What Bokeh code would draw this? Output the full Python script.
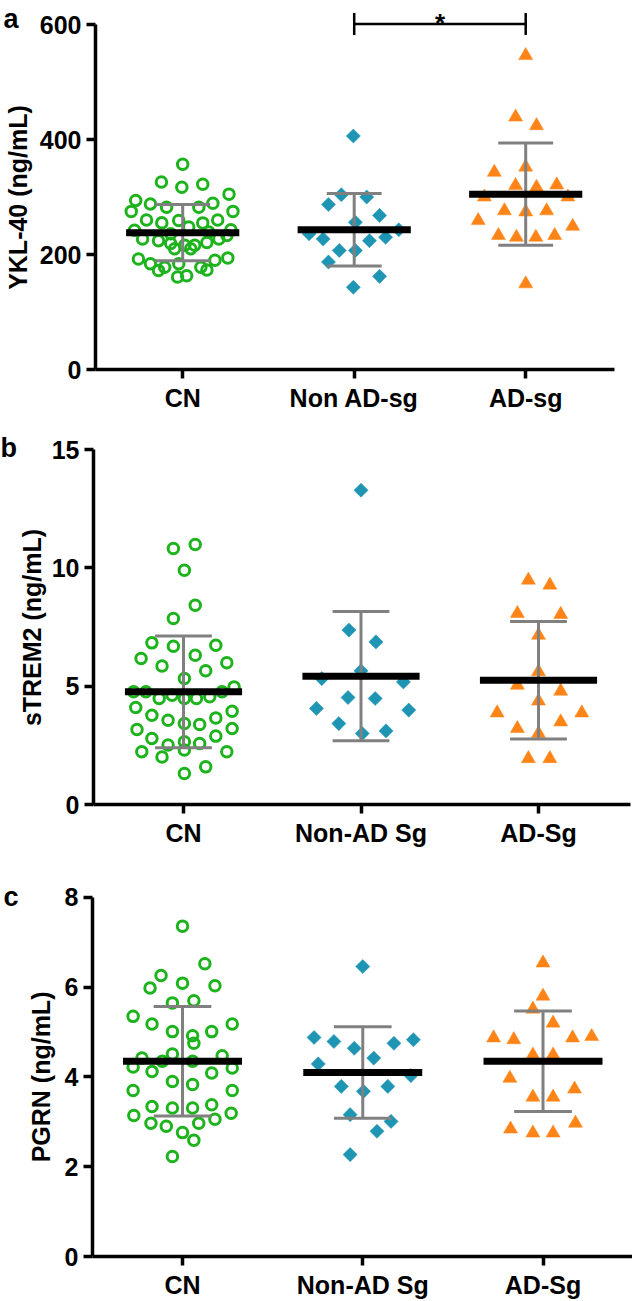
import numpy as np
from bokeh.plotting import figure
from bokeh.layouts import column, row
from bokeh.models import Range1d, FixedTicker, Label
from bokeh.core.properties import value
from bokeh.embed import file_html
from bokeh.resources import INLINE

FONT = "Liberation Sans"
GREEN = "#1DB31D"
TEAL = "#1F95B4"
ORANGE = "#FF8417"
GREY = "#808080"

# ---------------- data ----------------
groups_a = ["CN", "Non AD-sg", "AD-sg"]
groups_bc = ["CN", "Non-AD Sg", "AD-Sg"]

# Panel a: YKL-40 (ng/mL)
a_cn = [357, 326, 322, 317, 305, 294, 288, 282, 282, 289, 275, 275, 260, 255, 259, 255, 260,
        242, 248, 243, 227, 224, 219, 216, 216, 221, 227, 233, 210, 210, 192, 184, 178, 184,
        178, 190, 194, 172, 163, 161, 173, 236, 239]
a_cn_off = [0.0, -0.124, 0.117, -0.005, 0.270, -0.274, -0.188, -0.094, 0.094, 0.176, -0.300, 0.293,
            -0.211, -0.122, -0.023, 0.117, 0.204, -0.281, 0.035, 0.281, -0.234, -0.141, -0.070,
            0.012, 0.070, 0.141, 0.211, 0.258, -0.047, 0.047, -0.258, -0.188, -0.105, -0.023,
            0.106, 0.188, 0.263, -0.141, 0.023, -0.030, 0.141, -0.070, 0.152]
a_non = [406, 304, 300, 287, 268, 256, 236, 243, 230, 227, 224, 207, 207, 187, 162, 143]
a_non_off = [-0.005, -0.075, 0.073, -0.150, 0.148, 0.007, -0.263, 0.260, 0.183, -0.181, 0.089,
             -0.087, 0.007, -0.150, 0.148, -0.005]
a_ad = [546, 439, 424, 343, 352, 320, 317, 321, 300, 300, 276, 274, 276, 259, 249, 233, 230, 230,
        233, 149]
a_ad_off = [0.0, -0.059, 0.063, -0.183, 0.0, -0.059, 0.063, 0.181, -0.241, 0.246, -0.124, 0.0,
            0.122, -0.277, 0.274, -0.159, -0.054, 0.059, 0.169, 0.0]
a_mean = [238, 243, 305]
a_sd = [49, 63, 89]
a_ticks = [0, 200, 400, 600]
a_sig_pair = [2, 3]
a_sig_y = 601
a_sig_text = "*"

# Panel b: sTREM2 (ng/mL)
b_cn = [10.99, 10.82, 9.90, 8.42, 7.86, 6.83, 6.69, 6.73, 6.17, 6.31, 5.99, 5.85, 5.65, 5.32,
        4.76, 4.76, 4.48, 4.62, 4.48, 4.48, 4.55, 4.76, 4.97, 4.10, 3.77, 3.56, 3.42, 3.38, 3.66,
        3.94, 3.17, 3.21, 2.79, 2.65, 2.89, 2.51, 2.58, 2.23, 2.30, 2.23, 2.01, 1.59, 1.31]
b_cn_off = [0.066, -0.057, 0.005, 0.066, -0.057, -0.178, -0.057, 0.182, -0.239, 0.066, 0.244,
            -0.121, 0.125, 0.005, -0.281, -0.212, -0.137, -0.064, 0.005, 0.073, 0.148, 0.217,
            0.285, -0.269, -0.178, -0.087, 0.005, 0.091, 0.182, 0.274, -0.262, 0.274, -0.178,
            0.005, 0.182, -0.087, 0.091, -0.235, 0.005, 0.244, -0.121, 0.125, 0.005]
b_non = [13.28, 7.37, 6.87, 5.65, 5.32, 5.18, 4.52, 4.48, 4.06, 3.99, 3.42, 3.11, 3.00]
b_non_off = [0.0, -0.068, 0.084, 0.0, -0.221, 0.239, -0.073, 0.080, -0.251, 0.269, -0.125,
             0.141, 0.007]
b_ad = [9.48, 9.27, 8.07, 8.03, 7.15, 5.61, 5.04, 4.79, 4.37, 3.87, 3.87, 3.49, 3.21, 3.00,
        1.94, 1.94]
b_ad_off = [-0.057, 0.064, -0.119, 0.125, 0.0, 0.0, -0.119, 0.125, 0.0, -0.233, 0.244, 0.125,
            -0.119, 0.0, -0.057, 0.064]
b_mean = [4.76, 5.42, 5.25]
b_sd = [2.36, 2.73, 2.48]
b_ticks = [0, 5, 10, 15]

# Panel c: PGRN (ng/mL)
c_cn = [7.36, 6.52, 6.26, 6.09, 5.98, 6.03, 5.65, 5.70, 5.35, 5.18, 5.18, 5.01, 5.01, 4.92,
        4.75, 4.42, 4.35, 4.51, 4.35, 4.47, 4.22, 4.12, 4.20, 4.09, 3.90, 3.83, 3.70, 3.70,
        3.34, 3.31, 3.31, 3.38, 3.14, 3.19, 2.97, 2.90, 2.97, 3.06, 2.76, 2.59, 2.23]
c_cn_off = [0.0, 0.124, -0.119, 0.0, -0.180, 0.180, -0.056, 0.063, -0.274, -0.169, 0.276,
            -0.056, 0.162, 0.056, 0.063, -0.225, -0.112, -0.056, 0.056, 0.220, -0.274, -0.169,
            0.276, 0.162, -0.056, 0.056, -0.274, 0.276, -0.169, -0.056, 0.056, 0.162, -0.270,
            0.270, -0.175, -0.090, 0.090, 0.180, 0.0, 0.063, -0.056]
c_non = [6.46, 4.88, 4.79, 4.64, 4.75, 4.83, 4.42, 4.29, 4.03, 3.79, 3.68, 3.79, 3.16, 3.01,
         2.79, 2.27]
c_non_off = [0.0, -0.270, -0.160, -0.047, 0.173, 0.281, 0.061, -0.247, 0.267, -0.119, 0.004,
             0.139, -0.070, 0.157, 0.079, -0.070]
c_ad = [6.54, 5.80, 5.51, 5.20, 4.87, 4.83, 4.87, 4.90, 4.49, 4.49, 3.97, 3.73, 3.55, 3.55,
        2.84, 2.75, 2.75, 2.97]
c_ad_off = [0.0, 0.0, -0.056, 0.056, -0.274, -0.162, 0.164, 0.270, -0.056, 0.056, -0.184,
            0.175, -0.056, 0.056, -0.180, -0.056, 0.056, 0.180]
c_mean = [4.35, 4.10, 4.35]
c_sd = [1.22, 1.02, 1.12]
c_ticks = [0, 2, 4, 6, 8]

TOTAL_W = 632


# ---------------- drawing ----------------
def text_strip(letter, ylabel, g):
    """Narrow left strip holding the panel letter and the rotated y-axis title.
    Its frame spans the same rows as the main plot's frame (top of block to x-axis)."""
    W, H = g["Ws"], g["H"]
    fb = H - g["bottom"]
    s = figure(width=W, height=H, output_backend="svg", toolbar_location=None,
               x_range=Range1d(0, W), y_range=Range1d(0, fb),
               x_axis_location=None, y_axis_location=None,
               min_border_left=0, min_border_right=0, min_border_top=0,
               min_border_bottom=g["bottom"])
    s.outline_line_color = None
    s.xgrid.visible = False
    s.ygrid.visible = False
    s.text(x=[g["letter_x"]], y=[fb - g["letter_base"]], text=[letter], text_align="left",
           text_baseline="alphabetic", text_font=value(FONT), text_font_size="27px",
           text_font_style="bold", text_color="black")
    s.text(x=[g["ylab_x"]], y=[fb - g["ylab_y"]], text=[ylabel], angle=np.pi / 2,
           text_align="center", text_baseline="middle", text_font=value(FONT),
           text_font_size="25px", text_font_style="bold", text_color="black")
    return s


def make_panel(letter, ylabel, groups, series, means, sds, ticks, g, sig=None):
    W = TOTAL_W - g["Ws"]
    left = g["axis_x"] - g["Ws"]
    right = TOTAL_W - g["right_end"]
    fw = g["right_end"] - g["axis_x"]
    fb = g["H"] - g["bottom"]
    x0 = 1 - (g["cat1"] - g["axis_x"]) / g["sp"]
    x1 = x0 + fw / g["sp"]
    scale = (fb - g["ytop_px"]) / ticks[-1]
    y1 = fb / scale

    p = figure(width=W, height=g["H"], output_backend="svg", toolbar_location=None,
               x_range=Range1d(x0, x1), y_range=Range1d(0, y1),
               min_border_left=left, min_border_right=right,
               min_border_top=0, min_border_bottom=g["bottom"])
    p.outline_line_color = None
    p.xgrid.visible = False
    p.ygrid.visible = False
    p.background_fill_color = "white"
    p.border_fill_color = "white"

    markers = [dict(marker="circle", size=10.5, fill_color=None, line_color=GREEN, line_width=3),
               dict(marker="square", size=10, angle=np.pi / 4, fill_color=TEAL, line_color=TEAL,
                    line_width=0.5),
               dict(marker="triangle", size=14, fill_color=ORANGE, line_color=ORANGE,
                    line_width=0.5)]
    for i, (vals, offs) in enumerate(series):
        xs = [i + 1 + o for o in offs]
        p.scatter(xs, vals, **markers[i])

    cx = [1, 2, 3]
    lo = [m - s for m, s in zip(means, sds)]
    hi = [m + s for m, s in zip(means, sds)]
    p.segment(cx, lo, cx, hi, line_color=GREY, line_width=3)
    cap = 0.16
    p.segment([c - cap for c in cx], lo, [c + cap for c in cx], lo, line_color=GREY, line_width=3)
    p.segment([c - cap for c in cx], hi, [c + cap for c in cx], hi, line_color=GREY, line_width=3)
    half = 0.33
    p.segment([c - half for c in cx], means, [c + half for c in cx], means,
              line_color="black", line_width=7)

    for ax in (p.xaxis[0], p.yaxis[0]):
        ax.axis_line_width = 3.5
        ax.axis_line_color = "black"
        ax.major_tick_line_width = 3.5
        ax.major_tick_line_color = "black"
        ax.major_tick_in = 0
        ax.major_tick_out = 9
        ax.minor_tick_line_color = None
        ax.major_label_text_font = FONT
        ax.major_label_text_font_size = "25px"
        ax.major_label_text_font_style = "bold"
        ax.major_label_text_color = "black"
        ax.major_label_standoff = 5

    p.xaxis.ticker = FixedTicker(ticks=cx)
    p.xaxis.major_label_overrides = {c: name for c, name in zip(cx, groups)}
    p.yaxis.ticker = FixedTicker(ticks=ticks)
    p.yaxis.bounds = (ticks[0], ticks[-1])

    if sig is not None:
        (ga, gb), sy, txt = sig
        tick = 11 / scale
        p.segment([ga], [sy], [gb], [sy], line_color="black", line_width=2.5)
        p.segment([ga, gb], [sy - tick, sy - tick], [ga, gb], [sy + tick, sy + tick],
                  line_color="black", line_width=2.5)
        p.add_layout(Label(x=(ga + gb) / 2, y=sy + 1 / scale, text=txt, text_align="center",
                           text_baseline="alphabetic", text_font=FONT, text_font_size="26px",
                           text_font_style="bold", text_color="black"))

    return row(text_strip(letter, ylabel, g), p, spacing=0)


# geometry in page pixels (x from left of the page, y from top of each panel's own block)
geo_a = dict(H=428, Ws=36, axis_x=95, right_end=614, bottom=59, cat1=182.2, sp=171.5,
             ytop_px=24, letter_base=18, letter_x=3, ylab_x=17, ylab_y=197)
geo_b = dict(H=434, Ws=48, axis_x=93, right_end=630, bottom=58, cat1=183, sp=177.5,
             ytop_px=21, letter_base=19, letter_x=0, ylab_x=31, ylab_y=199)
geo_c = dict(H=439, Ws=56, axis_x=92, right_end=632, bottom=44, cat1=182, sp=180.25,
             ytop_px=35, letter_base=35, letter_x=3, ylab_x=40, ylab_y=215)

pa = make_panel("a", "YKL-40 (ng/mL)", groups_a,
                [(a_cn, a_cn_off), (a_non, a_non_off), (a_ad, a_ad_off)],
                a_mean, a_sd, a_ticks, geo_a, sig=(a_sig_pair, a_sig_y, a_sig_text))
pb = make_panel("b", "sTREM2 (ng/mL)", groups_bc,
                [(b_cn, b_cn_off), (b_non, b_non_off), (b_ad, b_ad_off)],
                b_mean, b_sd, b_ticks, geo_b)
pc = make_panel("c", "PGRN (ng/mL)", groups_bc,
                [(c_cn, c_cn_off), (c_non, c_non_off), (c_ad, c_ad_off)],
                c_mean, c_sd, c_ticks, geo_c)

layout = column(pa, pb, pc, spacing=0)
open("out.html", "w").write(file_html(layout, INLINE))
